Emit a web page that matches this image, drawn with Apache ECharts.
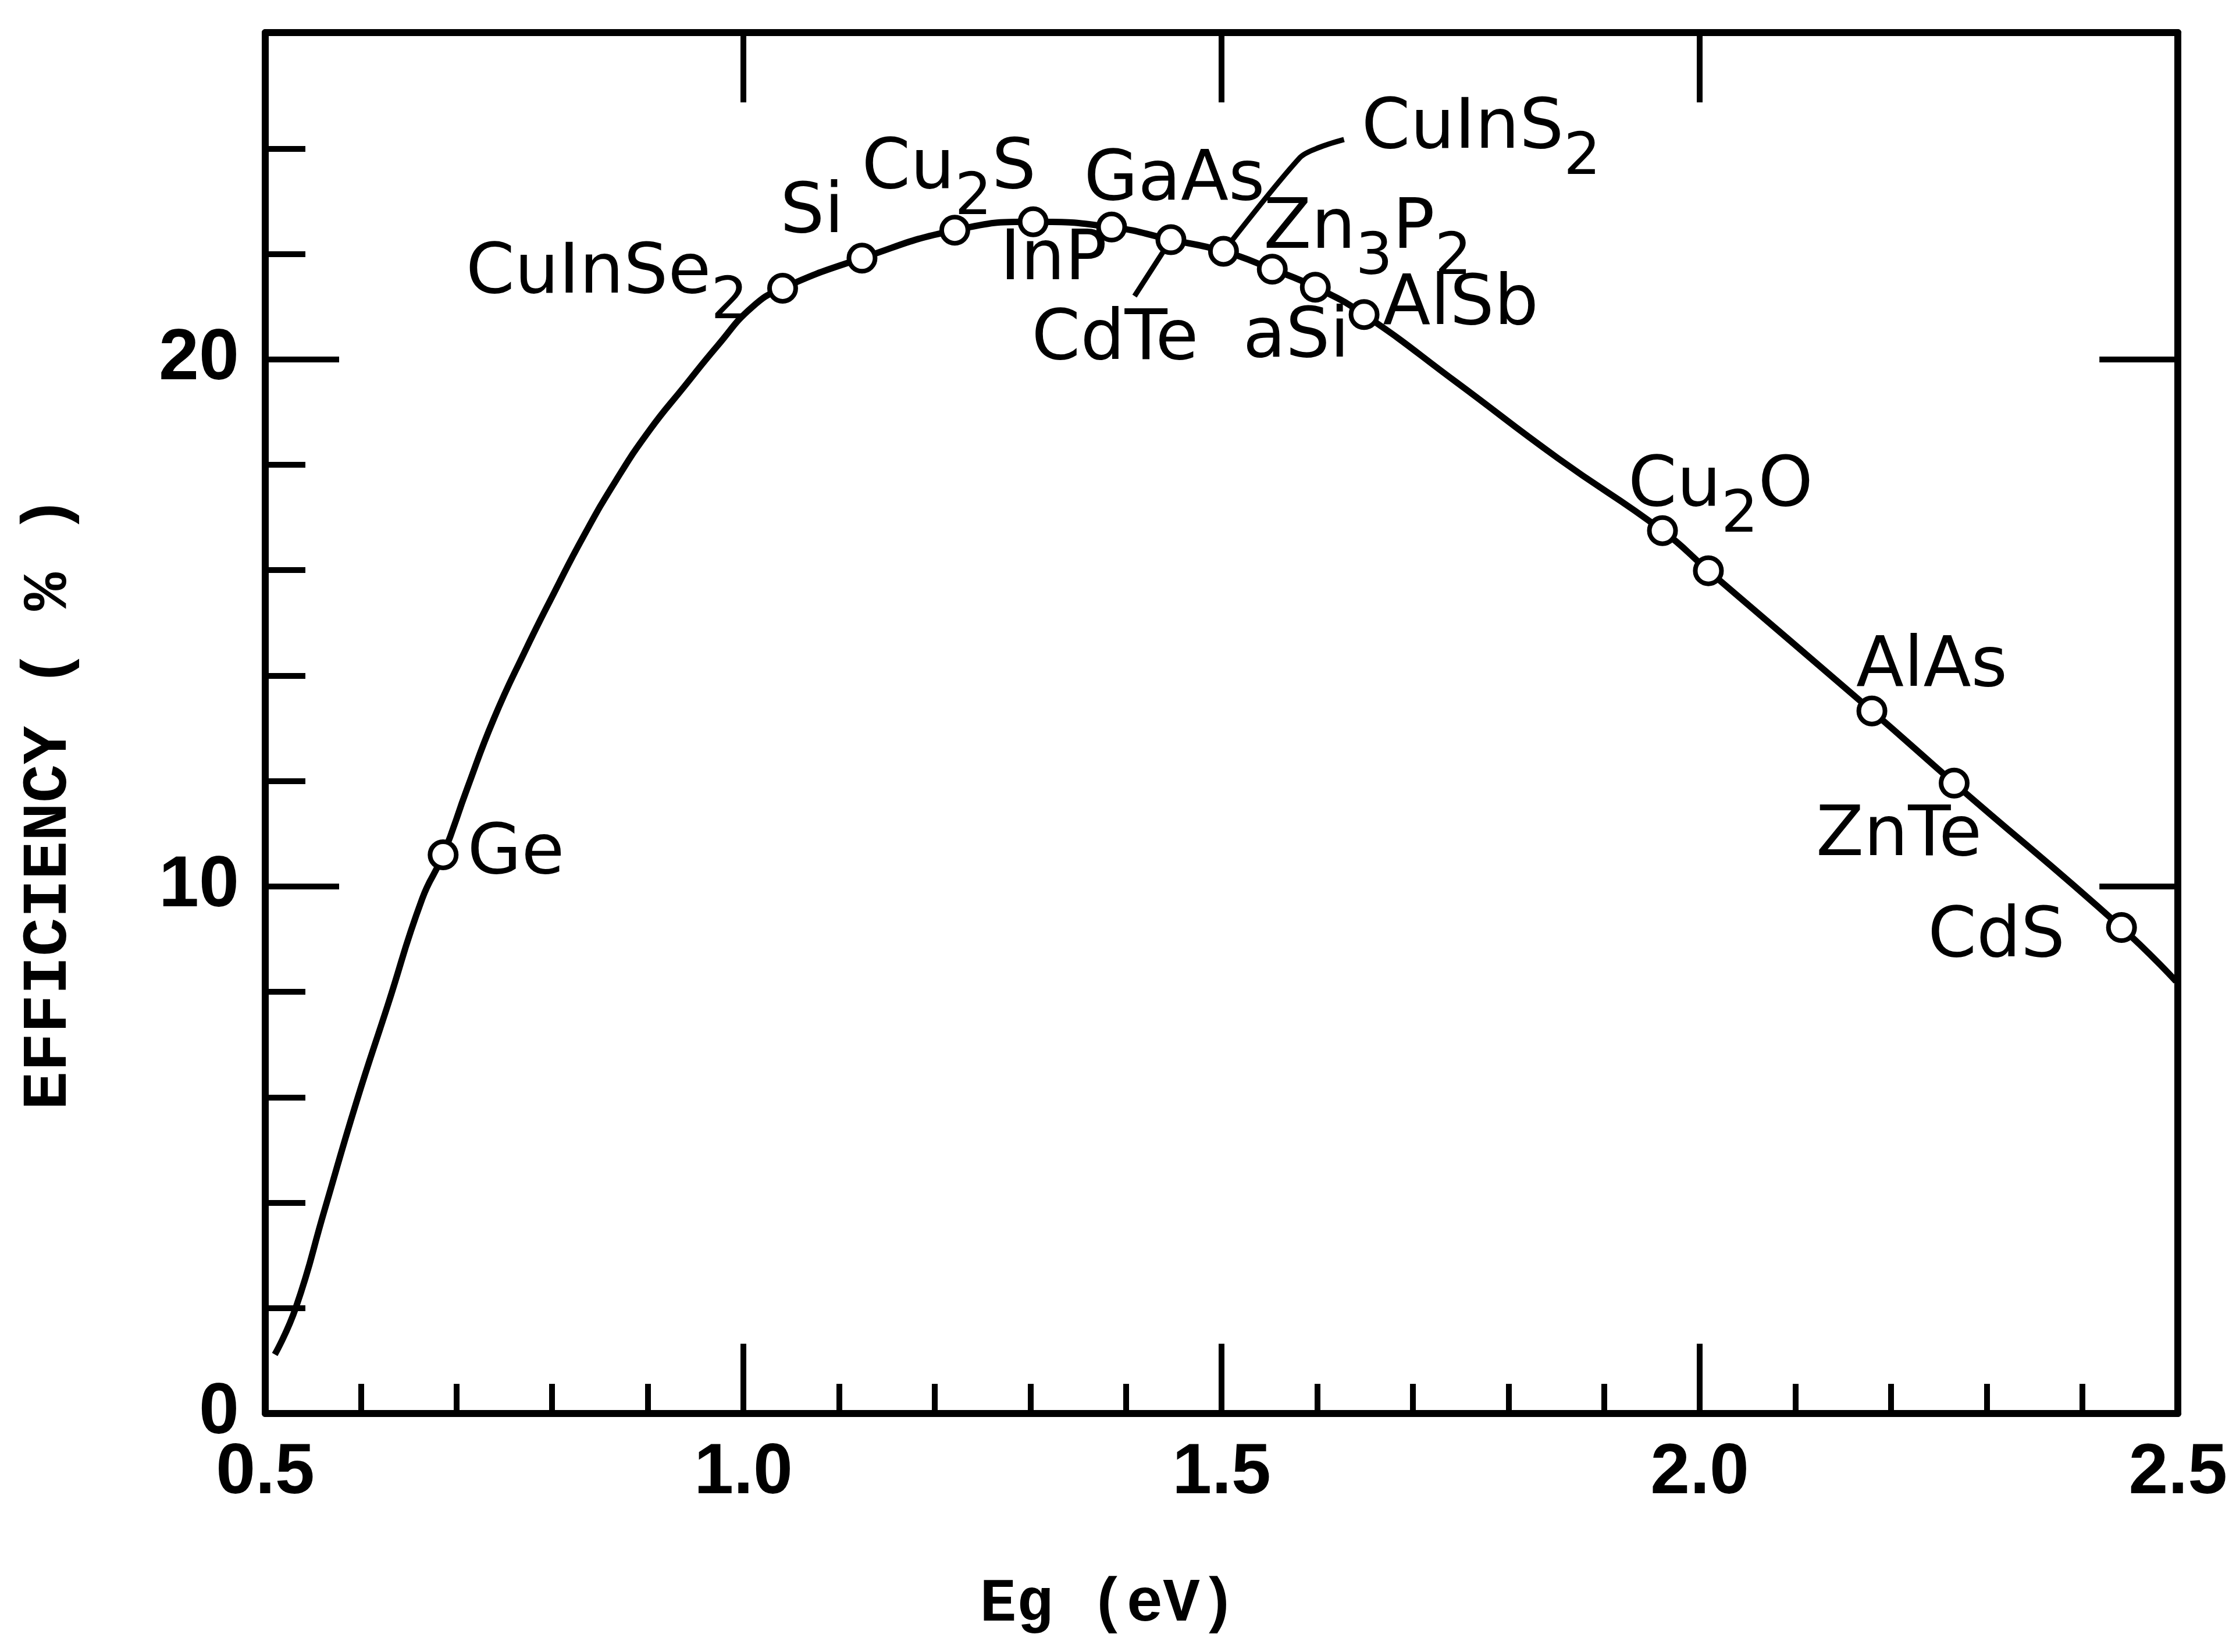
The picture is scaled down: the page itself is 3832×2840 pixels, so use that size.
<!DOCTYPE html>
<html>
<head>
<meta charset="utf-8">
<script src="https://cdn.jsdelivr.net/npm/echarts@6/dist/echarts.min.js"></script>
<style>
html,body{margin:0;padding:0;background:#ffffff;}
#chart{width:3832px;height:2840px;}
</style>
</head>
<body>
<div id="chart"></div>
<script>
// ---------------- data ----------------
const materials = ['Ge','CuInSe2','Si','Cu2S','InP','GaAs','CdTe','CuInS2','Zn3P2','aSi','AlSb','Cu2O','','AlAs','ZnTe','CdS'];
const bandGap   = [0.686,1.041,1.124,1.221,1.303,1.385,1.447,1.502,1.553,1.598,1.649,1.961,2.009,2.180,2.266,2.441];
const efficiency= [10.60,21.35,21.92,22.45,22.61,22.51,22.27,22.05,21.71,21.37,20.85,16.75,15.99,13.33,11.96,9.22];

// efficiency curve
const curveEg  = [0.510,0.532,0.562,0.595,0.628,0.664,0.686,0.711,0.739,0.771,0.802,0.833,0.867,0.902,0.938,0.973,1.009,1.041,1.124,1.221,1.303,1.385,1.447,1.502,1.553,1.598,1.649,1.746,1.852,1.961,2.009,2.180,2.266,2.441,2.498];
const curveEff = [1.12,2.01,3.86,5.89,7.74,9.76,10.60,11.85,13.18,14.44,15.57,16.65,17.71,18.66,19.48,20.26,20.99,21.35,21.92,22.45,22.61,22.51,22.27,22.05,21.71,21.37,20.85,19.56,18.12,16.75,15.99,13.33,11.96,9.22,8.20];

// leader lines of two labels
const leaderCuInS2Eg  = [1.502,1.582,1.602,1.628];
const leaderCuInS2Eff = [22.05,23.83,24.02,24.17];
const leaderCdTeEg    = [1.447,1.409];
const leaderCdTeEff   = [22.27,21.20];

// ticks and tick labels
const xMinorTicks = [0.6,0.7,0.8,0.9,1.1,1.2,1.3,1.4,1.6,1.7,1.8,1.9,2.1,2.2,2.3,2.4];
const xMajorTicks = [1.0,1.5,2.0];
const xTickLabels = [0.5,1.0,1.5,2.0,2.5];
const yMinorTicks = [2,4,6,8,12,14,16,18,22,24];
const yMajorTicks = [10,20];
const yTickLabels = [0,10,20];

const xTitle = 'Eg (eV)';
const yTitle = 'EFFICIENCY ( % )';

// ---------------- styles ----------------
const labelOffsets = {
  'Ge':[125,0], 'CuInSe2':[-302,-24], 'Si':[-86,-76], 'Cu2S':[-10,-104],
  'InP':[35,68], 'GaAs':[108,-79], 'CdTe':[-96,174], 'CuInS2':[443,-209],
  'Zn3P2':[164,-68], 'aSi':[-33,88], 'AlSb':[166,-15], 'Cu2O':[100,-74],
  'AlAs':[103,-74], 'ZnTe':[-95,93], 'CdS':[-215,18]
};
const BLACK = '#000000';
const tickStyle = {color: BLACK, width: 10};
const boxLine = {show: true, onZero: false, lineStyle: {color: BLACK, width: 12}};
const noLine = {show: false, onZero: false};

function richName(name) {
  const parts = name.match(/(\d+|\D+)/g) || [];
  return parts.map(p => /\d/.test(p) ? '{s|' + p + '}' : '{b|' + p + '}').join('');
}

const zip = (a, b) => a.map((v, i) => [v, b[i]]);

const pointData = materials.map((name, i) => {
  const item = {name: name, value: [bandGap[i], efficiency[i]]};
  if (name && labelOffsets[name]) {
    item.label = {show: true, offset: labelOffsets[name]};
  } else {
    item.label = {show: false};
  }
  return item;
});

const chart = echarts.init(document.getElementById('chart'), null, {renderer: 'canvas'});

const option = {
  backgroundColor: '#ffffff',
  animation: false,
  grid: {left: 456, top: 56, width: 3291, height: 2374, containLabel: false},
  xAxis: [
    { type: 'value', min: 0.5, max: 2.5, position: 'bottom',
      axisLine: boxLine,
      axisTick: {show: true, inside: true, length: 51, lineStyle: tickStyle, customValues: xMinorTicks},
      axisLabel: {show: false}, splitLine: {show: false} },
    { type: 'value', min: 0.5, max: 2.5, position: 'bottom',
      axisLine: noLine,
      axisTick: {show: true, inside: true, length: 120, lineStyle: tickStyle, customValues: xMajorTicks},
      axisLabel: {show: true, customValues: xTickLabels, formatter: v => Number(v).toFixed(1), margin: 42,
        color: BLACK, fontSize: 122, fontWeight: 'bold',
        fontFamily: '"Liberation Sans", sans-serif'},
      splitLine: {show: false} },
    { type: 'value', min: 0.5, max: 2.5, position: 'top',
      axisLine: boxLine,
      axisTick: {show: true, inside: true, length: 120, lineStyle: tickStyle, customValues: xMajorTicks},
      axisLabel: {show: false}, splitLine: {show: false} }
  ],
  yAxis: [
    { type: 'value', min: 0, max: 26.2, position: 'left',
      axisLine: boxLine,
      axisTick: {show: true, inside: true, length: 69, lineStyle: tickStyle, customValues: yMinorTicks},
      axisLabel: {show: false}, splitLine: {show: false} },
    { type: 'value', min: 0, max: 26.2, position: 'left',
      axisLine: noLine,
      axisTick: {show: true, inside: true, length: 127, lineStyle: tickStyle, customValues: yMajorTicks},
      axisLabel: {show: true, customValues: yTickLabels, margin: 45, color: BLACK, fontSize: 124,
        fontWeight: 'bold', fontFamily: '"Liberation Sans", sans-serif'},
      splitLine: {show: false} },
    { type: 'value', min: 0, max: 26.2, position: 'right',
      axisLine: boxLine,
      axisTick: {show: true, inside: true, length: 135, lineStyle: tickStyle, customValues: yMajorTicks},
      axisLabel: {show: false}, splitLine: {show: false} }
  ],
  graphic: [
    { type: 'text', x: 1905, y: 2760,
      style: {text: xTitle, font: 'bold 105px "Liberation Mono", monospace', fill: BLACK,
        align: 'center', verticalAlign: 'middle', textAlign: 'center', textVerticalAlign: 'middle'} },
    { type: 'text', x: 85, y: 1380, rotation: Math.PI / 2,
      style: {text: yTitle, font: 'bold 110px "Liberation Mono", monospace', fill: BLACK,
        align: 'center', verticalAlign: 'middle', textAlign: 'center', textVerticalAlign: 'middle'} }
  ],
  series: [
    { type: 'line', name: 'curve', xAxisIndex: 0, yAxisIndex: 0,
      data: zip(curveEg, curveEff), showSymbol: false, smooth: 0.5,
      lineStyle: {color: BLACK, width: 11}, silent: true, z: 2 },
    { type: 'line', name: 'leaderCuInS2', xAxisIndex: 0, yAxisIndex: 0,
      data: zip(leaderCuInS2Eg, leaderCuInS2Eff), showSymbol: false, smooth: 0.3,
      lineStyle: {color: BLACK, width: 9}, silent: true, z: 2 },
    { type: 'line', name: 'leaderCdTe', xAxisIndex: 0, yAxisIndex: 0,
      data: zip(leaderCdTeEg, leaderCdTeEff), showSymbol: false,
      lineStyle: {color: BLACK, width: 9}, silent: true, z: 2 },
    { type: 'scatter', name: 'materials', xAxisIndex: 0, yAxisIndex: 0,
      data: pointData, symbol: 'circle', symbolSize: 45,
      itemStyle: {color: '#ffffff', borderColor: BLACK, borderWidth: 8, opacity: 1},
      label: {show: true, position: 'inside', formatter: p => richName(p.name),
        rich: {
          b: {fontSize: 120, fontFamily: '"DejaVu Sans", sans-serif', color: BLACK, lineHeight: 200, verticalAlign: 'middle'},
          s: {fontSize: 100, fontFamily: '"DejaVu Sans", sans-serif', color: BLACK, lineHeight: 110, verticalAlign: 'bottom'}
        }},
      z: 3 }
  ]
};
chart.setOption(option);
</script>
</body>
</html>
